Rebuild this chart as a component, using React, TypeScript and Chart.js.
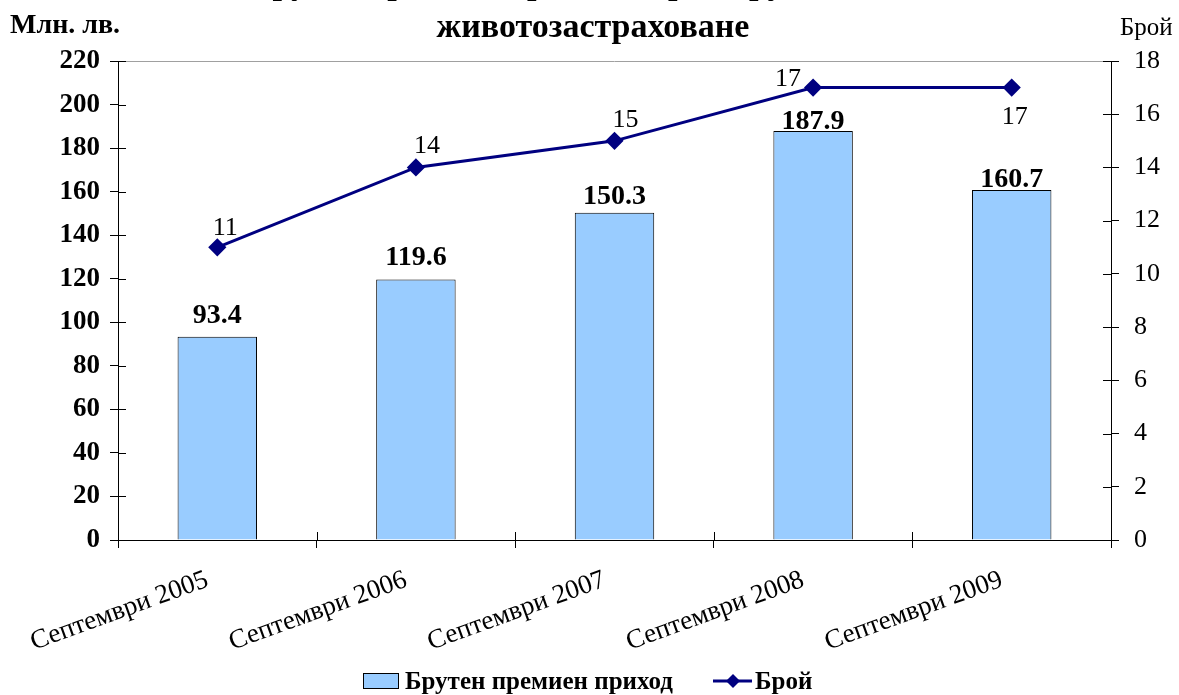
import React, { useEffect, useRef } from "react";
import { Chart, registerables } from "chart.js";

Chart.register(...registerables);

const categories = ["Септември 2005", "Септември 2006", "Септември 2007", "Септември 2008", "Септември 2009"];
const premiumIncome = [93.4, 119.6, 150.3, 187.9, 160.7];
const companyCount = [11, 14, 15, 17, 17];
const titleLines = ["Брутен премиен приход и брой дружества по", "животозастраховане"];
const leftAxisTitle = "Млн. лв.";
const rightAxisTitle = "Брой";
const barLabel = "Брутен премиен приход";
const lineLabel = "Брой";

// label placement (styling): gap above bar; [dx, dy] of line label bottom-centre relative to point
const barLabelGaps = [14, 15, 9, 2, 3];
const lineLabelOffsets = [
  [8, -12],
  [11, -14],
  [11, -14],
  [-25, -2],
  [3, 36],
];

const FONT = "'Liberation Serif', 'Times New Roman', serif";
const NAVY = "#000080";
const BAR = "#99CCFF";

const decorPlugin = {
  id: "decor",
  afterDraw(chart: any) {
    const ctx = chart.ctx;
    const area = chart.chartArea;
    ctx.save();
    // top border of plot area
    ctx.strokeStyle = "#a0a0a0";
    ctx.lineWidth = 1;
    ctx.beginPath();
    ctx.moveTo(area.left, area.top + 0.5);
    ctx.lineTo(area.right, area.top + 0.5);
    ctx.stroke();
    // inward tick marks
    ctx.strokeStyle = "#000";
    const y = chart.scales.y;
    const y1 = chart.scales.y1;
    ctx.beginPath();
    y.ticks.forEach((_: any, i: number) => {
      const py = Math.round(y.getPixelForTick(i)) + 0.5;
      ctx.moveTo(area.left, py);
      ctx.lineTo(area.left + 8, py);
    });
    y1.ticks.forEach((_: any, i: number) => {
      const py = Math.round(y1.getPixelForTick(i)) + 0.5;
      ctx.moveTo(area.right, py);
      ctx.lineTo(area.right - 8, py);
    });
    for (let i = 0; i <= categories.length; i++) {
      const px = Math.round(area.left + ((area.right - area.left) * i) / categories.length) + 0.5;
      ctx.moveTo(px, area.bottom);
      ctx.lineTo(px, area.bottom - 8);
    }
    ctx.stroke();

    // titles
    ctx.fillStyle = "#000";
    ctx.textAlign = "center";
    ctx.textBaseline = "alphabetic";
    ctx.font = `bold 34px ${FONT}`;
    ctx.fillText(titleLines[0], 593, -6);
    ctx.fillText(titleLines[1], 593, 37);
    ctx.textAlign = "left";
    ctx.font = `bold 28px ${FONT}`;
    ctx.fillText(leftAxisTitle, 10, 33);
    ctx.font = `25px ${FONT}`;
    ctx.fillText(rightAxisTitle, 1120, 35);

    // legend
    ctx.fillStyle = BAR;
    ctx.fillRect(363.5, 673.5, 35, 15);
    ctx.strokeStyle = "#000";
    ctx.lineWidth = 1;
    ctx.strokeRect(363.5, 673.5, 35, 15);
    ctx.fillStyle = "#000";
    ctx.font = `bold 25px ${FONT}`;
    ctx.textBaseline = "alphabetic";
    ctx.fillText(barLabel, 405, 689);
    ctx.strokeStyle = NAVY;
    ctx.lineWidth = 3;
    ctx.beginPath();
    ctx.moveTo(713, 681);
    ctx.lineTo(752, 681);
    ctx.stroke();
    ctx.fillStyle = NAVY;
    ctx.beginPath();
    ctx.moveTo(733, 674);
    ctx.lineTo(740, 681);
    ctx.lineTo(733, 688);
    ctx.lineTo(726, 681);
    ctx.closePath();
    ctx.fill();
    ctx.fillStyle = "#000";
    ctx.fillText(lineLabel, 755, 689);
    ctx.restore();
  },
  afterDatasetsDraw(chart: any) {
    const ctx = chart.ctx;
    ctx.save();
    ctx.fillStyle = "#000";
    ctx.textAlign = "center";
    ctx.textBaseline = "alphabetic";
    const barMeta = chart.getDatasetMeta(0);
    ctx.font = `bold 28px ${FONT}`;
    barMeta.data.forEach((el: any, i: number) => {
      ctx.fillText(premiumIncome[i].toFixed(1), el.x, el.y - barLabelGaps[i]);
    });
    const lineMeta = chart.getDatasetMeta(1);
    ctx.font = `26px ${FONT}`;
    lineMeta.data.forEach((el: any, i: number) => {
      const [dx, dy] = lineLabelOffsets[i];
      ctx.fillText(String(companyCount[i]), el.x + dx, el.y + dy);
    });
    ctx.restore();
  },
};

export default function App() {
  const ref = useRef<HTMLCanvasElement | null>(null);
  useEffect(() => {
    if (!ref.current) return;
    const chart = new Chart(ref.current, {
      type: "bar",
      data: {
        labels: categories,
        datasets: [
          {
            type: "bar",
            label: barLabel,
            data: premiumIncome,
            backgroundColor: BAR,
            borderColor: "#000",
            borderWidth: 1,
            categoryPercentage: 1,
            barPercentage: 0.4,
            yAxisID: "y",
            order: 1,
          },
          {
            type: "line",
            label: lineLabel,
            data: companyCount,
            borderColor: NAVY,
            borderWidth: 3,
            backgroundColor: NAVY,
            pointStyle: "rectRot",
            pointRadius: 7,
            pointBackgroundColor: NAVY,
            pointBorderColor: NAVY,
            yAxisID: "y1",
            order: 0,
          } as any,
        ],
      },
      options: {
        responsive: false,
        animation: false,
        layout: { padding: { top: 61, left: 0, right: 0, bottom: 0 } },
        plugins: { legend: { display: false }, tooltip: { enabled: false }, title: { display: false } },
        scales: {
          x: {
            offset: true,
            grid: { display: true, drawOnChartArea: false, offset: true, tickLength: 8, color: "#000" },
            border: { color: "#000", width: 1 },
            ticks: {
              color: "#000",
              font: { family: FONT, size: 27 },
              minRotation: 20,
              maxRotation: 20,
              padding: 16,
              labelOffset: -10,
            },
            afterFit: (s: any) => { s.height = 155; },
          },
          y: {
            position: "left",
            min: 0,
            max: 220,
            ticks: { stepSize: 20, color: "#000", font: { family: FONT, size: 27, weight: "bold" }, padding: 10 },
            grid: { drawOnChartArea: false, tickLength: 8, color: "#000" },
            border: { color: "#000", width: 1 },
            afterFit: (s: any) => { s.width = 118; },
          },
          y1: {
            position: "right",
            min: 0,
            max: 18,
            ticks: { stepSize: 2, color: "#000", font: { family: FONT, size: 26 }, padding: 15 },
            grid: { drawOnChartArea: false, tickLength: 8, color: "#000" },
            border: { color: "#000", width: 1 },
            afterFit: (s: any) => { s.width = 68; },
          },
        },
      },
      plugins: [decorPlugin],
    });
    return () => chart.destroy();
  }, []);
  return (
    <div style={{ position: "absolute", left: 0, top: 0, width: 1179, height: 695, background: "#fff" }}>
      <canvas ref={ref} width={1179} height={695} style={{ width: 1179, height: 695, display: "block" }} />
    </div>
  );
}
